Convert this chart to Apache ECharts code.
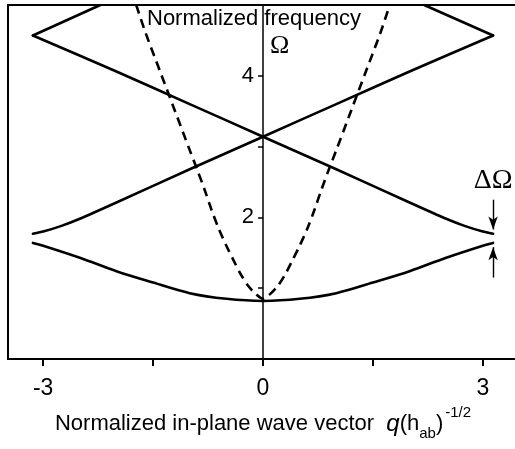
<!DOCTYPE html>
<html>
<head>
<meta charset="utf-8">
<style>
  html, body { margin: 0; padding: 0; background: #fff; }
  #chart { width: 515px; height: 449px; }
</style>
<script src="https://cdn.jsdelivr.net/npm/echarts@6/dist/echarts.min.js"></script>
</head>
<body>
<div id="chart"></div>
<script>
// Lowest band (solid), symmetric about q = 0
const lowQ = [-3.14, -3.0, -2.5, -2.0, -1.5, -1.0, -0.5, 0, 0.5, 1.0, 1.5, 2.0, 2.5, 3.0, 3.14];
const lowW = [1.64, 1.60, 1.43, 1.24, 1.08, 0.93, 0.85, 0.82, 0.85, 0.93, 1.08, 1.24, 1.43, 1.60, 1.64];

// Rising branch: from the gap edge at q = -pi up to the zone-edge vertex at q = +pi
const riseQ = [-3.14, -3.0, -2.75, -2.5, -2.0, -1.0, 0, 1.0, 2.0, 3.14];
const riseW = [1.77, 1.80, 1.88, 1.98, 2.21, 2.68, 3.14, 3.60, 4.06, 4.57];

// Falling branch: from the vertex at q = -pi down to the gap edge at q = +pi
const fallQ = [-3.14, -2.0, -1.0, 0, 1.0, 2.0, 2.5, 2.75, 3.0, 3.14];
const fallW = [4.57, 4.06, 3.60, 3.14, 2.68, 2.21, 1.98, 1.88, 1.80, 1.77];

// Upper folded branches leaving the zone-edge vertices
const topLeftQ = [-3.14, -2.22];
const topLeftW = [4.57, 5.0];
const topRightQ = [2.2, 3.14];
const topRightW = [5.0, 4.57];

// Dashed dispersion curve
const dashQ = [-1.73, -1.6, -1.4, -1.2, -1.0, -0.9, -0.8, -0.7, -0.6, -0.5, -0.4, -0.3, -0.2, -0.1, 0,
               0.1, 0.2, 0.3, 0.4, 0.5, 0.6, 0.7, 0.8, 0.9, 1.0, 1.2, 1.4, 1.6, 1.73];
const dashW = [5.0, 4.6, 4.05, 3.5, 2.95, 2.68, 2.4, 2.1, 1.83, 1.6, 1.39, 1.19, 1.03, 0.92, 0.85,
               0.92, 1.03, 1.19, 1.39, 1.6, 1.83, 2.1, 2.4, 2.68, 2.95, 3.5, 4.05, 4.6, 5.0];

// Gap marker at the zone edge
const gapQ = 3.14;
const gapArrowDown = [2.25, 1.83];
const gapArrowUp = [1.15, 1.58];
const gapLabelW = 2.52;

// Axis ticks and labels
const xTicks = [-3, -1.5, 0, 1.5, 3];
const xLabels = [-3, 0, 3];
const yTicks = [1, 2, 3, 4];
const yLabels = [2, 4];

const pairs = (qs, ws) => qs.map((q, i) => [q, ws[i]]);

const SANS = 'Liberation Sans, Arial, Helvetica, sans-serif';
const SERIF = 'Liberation Serif, Times New Roman, serif';
const solid = { color: '#000', width: 2.6, cap: 'round', join: 'round' };

const W = 515;
const GRID_LEFT = 8, GRID_RIGHT = -3;
// the frequency axis sits in the middle of the plot, at q = 0 (range is symmetric)
const yAxisOffset = -(W - GRID_LEFT - GRID_RIGHT) / 2;

const chart = echarts.init(document.getElementById('chart'), null, { renderer: 'canvas' });

chart.setOption({
  animation: false,
  backgroundColor: '#fff',
  grid: {
    left: GRID_LEFT, top: 5, right: GRID_RIGHT, bottom: 90,
    outerBoundsMode: 'none', containLabel: false,
    show: true, borderColor: '#000', borderWidth: 2, backgroundColor: 'transparent'
  },
  xAxis: {
    type: 'value',
    min: -3.48, max: 3.48,
    axisLine: { show: true, onZero: false, lineStyle: { color: '#000', width: 2 } },
    axisTick: { show: true, customValues: xTicks, length: 7, lineStyle: { color: '#000', width: 2 } },
    axisLabel: {
      show: true, customValues: xLabels, margin: 18,
      fontFamily: SANS, fontSize: 23, color: '#000'
    },
    splitLine: { show: false },
    name: '{n|Normalized in-plane wave vector  }{q|q}{n|(h}{sub|ab}{n|)}{sup|-1/2}',
    nameLocation: 'middle',
    nameGap: 44,
    nameTextStyle: {
      color: '#000',
      rich: {
        n: { fontFamily: SANS, fontSize: 22, color: '#000', lineHeight: 38, verticalAlign: 'middle' },
        q: { fontFamily: SANS, fontSize: 24, fontStyle: 'italic', color: '#000', lineHeight: 38, verticalAlign: 'middle' },
        sub: { fontFamily: SANS, fontSize: 15, color: '#000', lineHeight: 15, verticalAlign: 'bottom', padding: [0, 0, 2, 0] },
        sup: { fontFamily: SANS, fontSize: 15, color: '#000', lineHeight: 15, verticalAlign: 'top', padding: [0, 0, 0, 2] }
      }
    }
  },
  yAxis: {
    type: 'value',
    min: 0, max: 5, interval: 1,
    position: 'left',
    offset: yAxisOffset,
    axisLine: { show: true, onZero: false, lineStyle: { color: '#000', width: 1.5 } },
    axisTick: { show: true, customValues: yTicks, length: 5, lineStyle: { color: '#000', width: 1.5 } },
    axisLabel: {
      show: true, customValues: yLabels, margin: 9,
      fontFamily: SANS, fontSize: 22, color: '#000'
    },
    splitLine: { show: false }
  },
  graphic: [
    {
      type: 'text', left: 147, top: 8,
      style: { text: 'Normalized frequency', font: '22px ' + SANS, fill: '#000' }
    },
    {
      type: 'text', left: 270, top: 33,
      style: { text: 'Ω', font: '26px ' + SERIF, fill: '#000' }
    }
  ],
  series: [
    {
      type: 'line', data: pairs(lowQ, lowW), smooth: 0.35,
      showSymbol: false, lineStyle: solid
    },
    {
      type: 'line', data: pairs(riseQ, riseW), smooth: 0.2,
      showSymbol: false, lineStyle: solid
    },
    {
      type: 'line', data: pairs(fallQ, fallW), smooth: 0.2,
      showSymbol: false, lineStyle: solid
    },
    {
      type: 'line', data: pairs(topLeftQ, topLeftW),
      showSymbol: false, lineStyle: solid
    },
    {
      type: 'line', data: pairs(topRightQ, topRightW),
      showSymbol: false, lineStyle: solid
    },
    {
      type: 'line', data: pairs(dashQ, dashW), smooth: 0.3,
      showSymbol: false,
      lineStyle: { color: '#000', width: 2.6, type: [9, 6], cap: 'butt' }
    },
    {
      // zone-edge gap annotation
      type: 'line', data: [], silent: true,
      markLine: {
        silent: true, animation: false,
        symbol: ['none', 'arrow'], symbolSize: [7, 13],
        label: { show: false },
        lineStyle: { color: '#000', width: 1.4, type: 'solid' },
        data: [
          [{ coord: [gapQ, gapArrowDown[0]] }, { coord: [gapQ, gapArrowDown[1]] }],
          [{ coord: [gapQ, gapArrowUp[0]] }, { coord: [gapQ, gapArrowUp[1]] }]
        ]
      },
      markPoint: {
        silent: true, symbol: 'circle', symbolSize: 0,
        label: {
          show: true, position: 'inside', formatter: 'ΔΩ',
          fontFamily: SERIF, fontSize: 28, color: '#000'
        },
        data: [{ coord: [gapQ, gapLabelW] }]
      }
    }
  ]
});
</script>
</body>
</html>
